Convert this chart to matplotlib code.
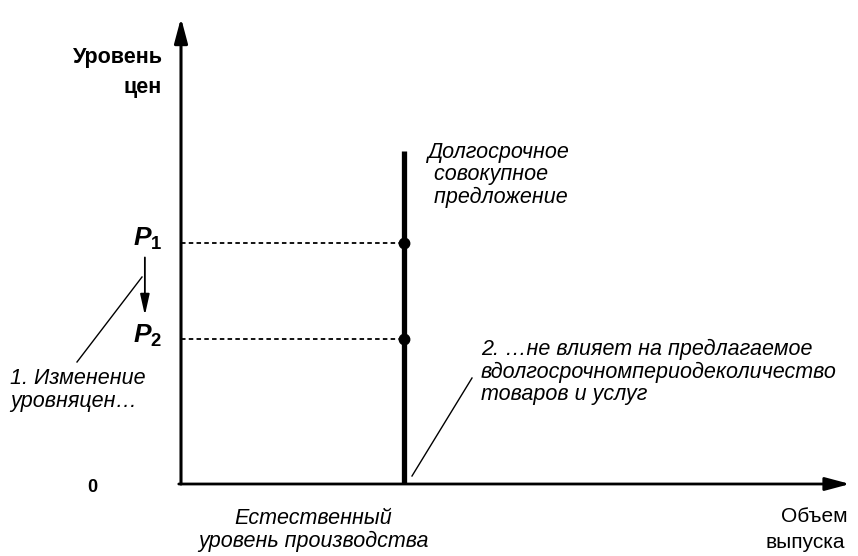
import matplotlib
matplotlib.use("Agg")
import matplotlib.pyplot as plt

# ---- data (model values) ----
natural_output = 5.0       # Y_N, position of the long-run aggregate supply
price_levels = [5.0, 3.0]  # P1, P2
price_labels = [r"$P_1$", r"$P_2$"]
lras_top = 6.9
x_axis_end = 15.0
y_axis_end = 9.67

W, H = 858, 556
plt.rcParams["font.family"] = ["Liberation Sans", "DejaVu Sans"]
plt.rcParams["mathtext.fontset"] = "custom"
plt.rcParams["mathtext.it"] = "Liberation Sans:italic:bold"
plt.rcParams["mathtext.rm"] = "Liberation Sans:bold"

fig = plt.figure(figsize=(W / 100, H / 100), dpi=100)
ax = fig.add_axes([0, 0, 1, 1])
ox, oy = 181, 484          # origin in pixels (from top-left)
ux, uy = 44.6, 48.2        # pixels per data unit
ax.set_xlim(-ox / ux, (W - ox) / ux)
ax.set_ylim(-(H - oy) / uy, oy / uy)
ax.axis("off")

def fp(x, y):
    """pixel position (from top-left) -> axes fraction"""
    return x / W, 1 - y / H

# axes with arrows
ax.annotate("", xy=(0, y_axis_end), xytext=(0, 0),
            arrowprops=dict(arrowstyle="-|>,head_length=0.75,head_width=0.2",
                            lw=2.2, color="black", mutation_scale=20,
                            shrinkA=0, shrinkB=0))
ax.annotate("", xy=(x_axis_end, 0), xytext=(-0.05, 0),
            arrowprops=dict(arrowstyle="-|>,head_length=0.75,head_width=0.2",
                            lw=2.0, color="black", mutation_scale=20,
                            shrinkA=0, shrinkB=0))

# long-run aggregate supply
ax.plot([natural_output, natural_output], [0, lras_top], color="black",
        lw=3.8, solid_capstyle="butt")

# dotted guides and points
for p in price_levels:
    ax.plot([0, natural_output], [p, p], color="black", lw=1.3,
            linestyle=(0, (2.5, 1.8)))
    ax.plot([natural_output], [p], "o", color="black", ms=7.5)

# price labels
for p, lab in zip(price_levels, price_labels):
    ax.text(-0.42, p + 0.08, lab, ha="right", va="center",
            fontsize=19, color="black")

# arrow P1 -> P2
ax.annotate("", xy=(-0.81, price_levels[1] + 0.5),
            xytext=(-0.81, price_levels[0] - 0.3),
            arrowprops=dict(arrowstyle="-|>,head_length=0.9,head_width=0.2",
                            lw=1.3, color="black", mutation_scale=14,
                            shrinkA=0, shrinkB=0))

# pointer lines
ax.plot(*zip(fp(77, 362), fp(142, 277)), color="black", lw=1.0,
        transform=ax.transAxes)
ax.plot(*zip(fp(412, 476), fp(472, 378)), color="black", lw=1.0,
        transform=ax.transAxes)

# texts
ax.text(*fp(163, 58), "Уровень", ha="right", va="center", fontsize=15.5,
        fontweight="bold", transform=ax.transAxes)
ax.text(*fp(162, 87), "цен", ha="right", va="center", fontsize=15.5,
        fontweight="bold", transform=ax.transAxes)

ax.text(*fp(428, 175), "Долгосрочное\n совокупное\n предложение", ha="left",
        va="center", fontsize=15.5, fontstyle="italic", linespacing=1.12,
        transform=ax.transAxes)

ax.text(*fp(10, 390), "1. Изменение\nуровняцен…", ha="left", va="center",
        fontsize=15.5, fontstyle="italic", linespacing=1.08,
        transform=ax.transAxes)

ax.text(*fp(481, 372), "2. …не влияет на предлагаемое\nвдолгосрочномпериодеколичество\nтоваров и услуг",
        ha="left", va="center", fontsize=15.5, fontstyle="italic",
        linespacing=1.08, transform=ax.transAxes)

ax.text(*fp(313, 530), "Естественный\nуровень производства", ha="center",
        va="center", fontsize=15.5, fontstyle="italic", linespacing=1.08,
        transform=ax.transAxes)

ax.text(*fp(814, 516), "Объем", ha="center", va="center",
        fontsize=15, transform=ax.transAxes)
ax.text(*fp(805, 542), "выпуска", ha="center", va="center",
        fontsize=15, transform=ax.transAxes)

ax.text(*fp(92, 487), "0", ha="center", va="center", fontsize=13,
        fontweight="bold", transform=ax.transAxes)

fig.savefig("out.png", dpi=100)
